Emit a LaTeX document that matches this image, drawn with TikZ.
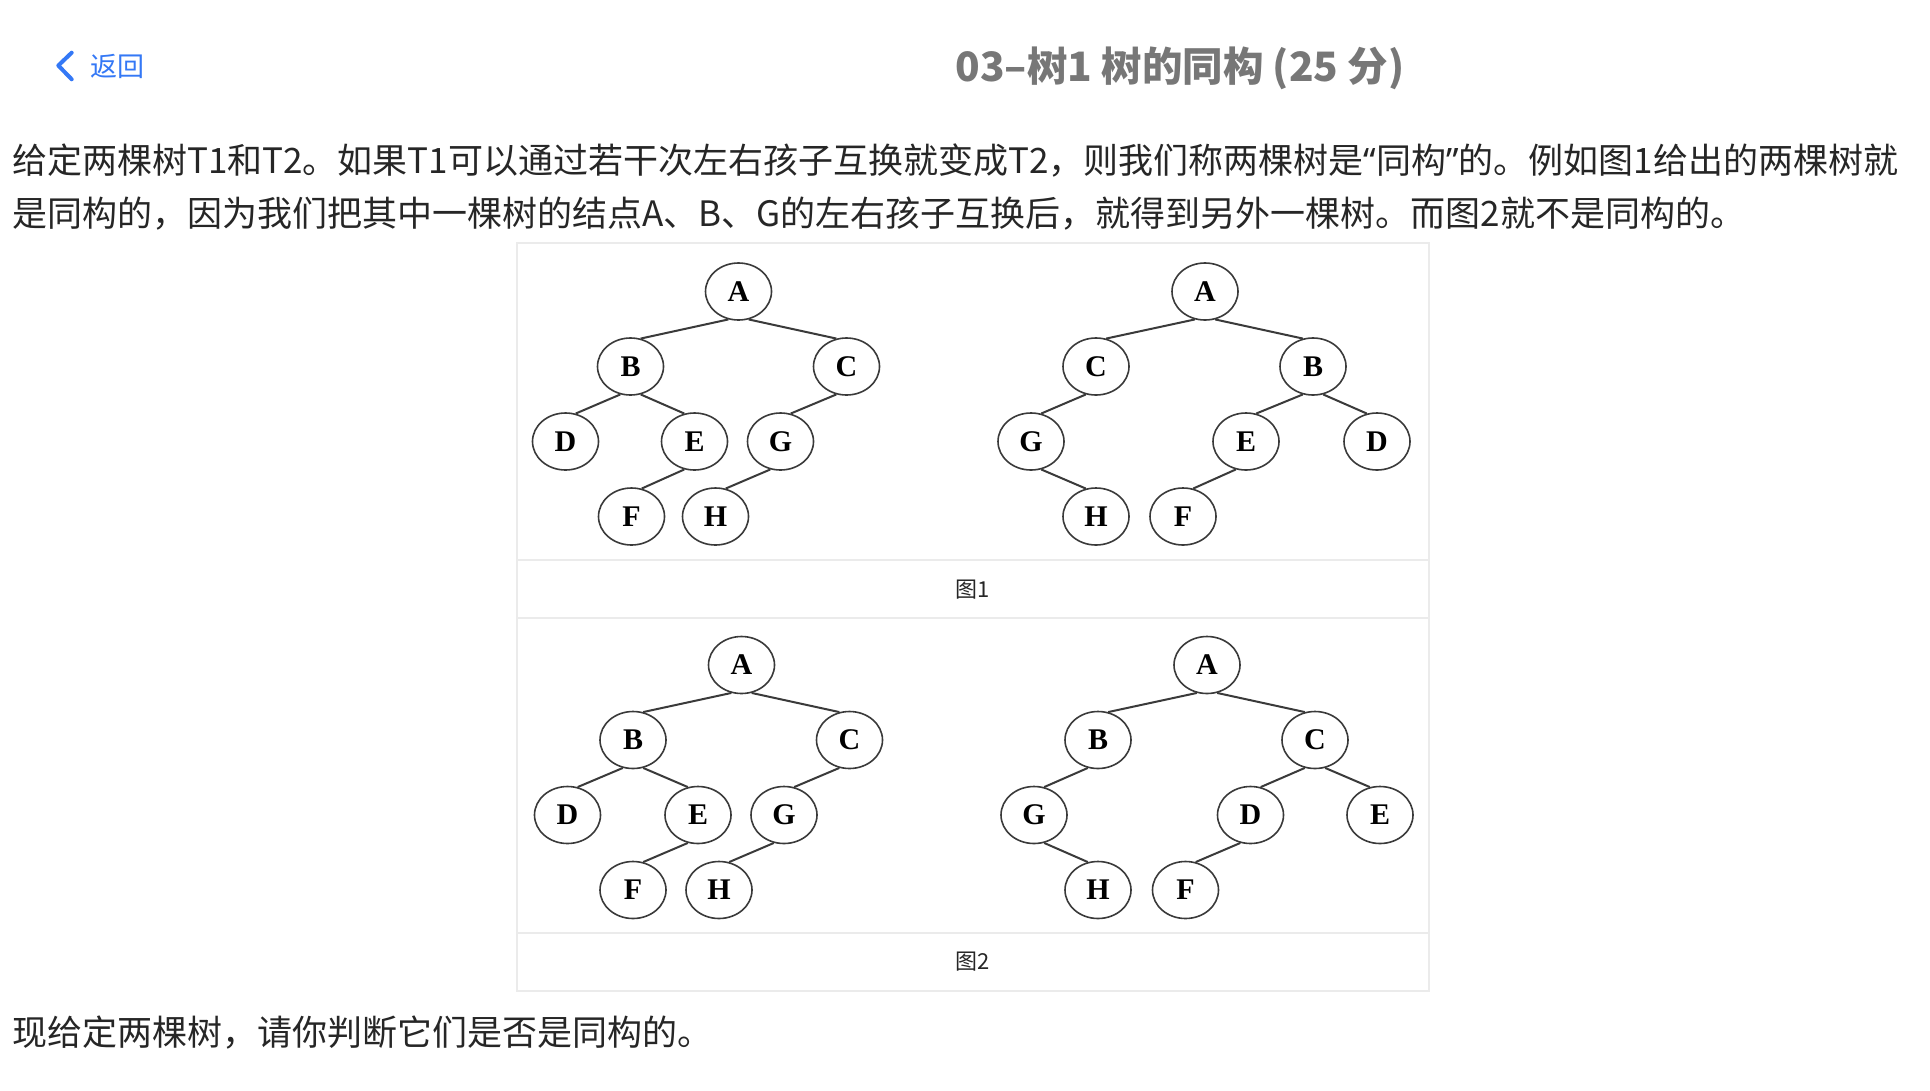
\documentclass[tikz,border=0pt]{standalone}
\usepackage{fontspec}
\usepackage{tikz}
\usetikzlibrary{positioning, shapes.geometric}
\usepackage{xcolor}
\setmainfont{Noto Sans CJK SC}
\newfontfamily\treefont{Liberation Serif}
\newfontfamily\quotefont{Noto Sans}
\definecolor{textdark}{HTML}{262626}
\definecolor{linkblue}{HTML}{3478F6}
\definecolor{titlegray}{HTML}{777777}
\definecolor{rulegray}{HTML}{EBEBEB}
\definecolor{branchgray}{HTML}{3A3A3A}

\begin{document}
\begin{tikzpicture}[
  x=1pt, y=-1pt,
    on grid,
    state/.style={ellipse, draw=branchgray, line width=1.6pt, minimum width=66pt, minimum height=57pt, inner sep=0pt, font=\treefont\bfseries\fontsize{30}{30}\selectfont},
    branch/.style={branchgray, line width=2pt},
    body/.style={anchor=west, inner sep=0pt, text=textdark, font=\fontsize{35}{40}\selectfont},
    caption/.style={inner sep=0pt, text=textdark, font=\fontsize{22}{26}\selectfont},
    tablerule/.style={rulegray, line width=2pt},
    backlink/.style={anchor=west, inner sep=0pt, text=linkblue, font=\fontsize{27}{30}\selectfont},
    backarrow/.style={linkblue, line width=4pt, line cap=round, line join=round},
    heading/.style={inner sep=0pt, text=titlegray, font=\bfseries\fontsize{40.5}{44}\selectfont}
]
\fill[white] (0,0) rectangle (1930,1090);
\useasboundingbox (0,0) rectangle (1930,1090);

% Header
\draw[backarrow] (71.7,52.7) -- (58.3,65.5) -- (71.7,79.3);
\node[backlink] (back) at (90,66) {返回};
\node[heading] (title) at (1180,68) {03–树1 树的同构 (25 分)};

% Text
\node[body] (line1) at (12,161) {给定两棵树T1和T2。如果T1可以通过若干次左右孩子互换就变成T2，则我们称两棵树是{\quotefont “}同构{\quotefont ”}的。例如图1给出的两棵树就};
\node[body] (line2) at (12,214) {是同构的，因为我们把其中一棵树的结点A、B、G的左右孩子互换后，就得到另外一棵树。而图2就不是同构的。};
\node[body] (line3) at (12,1033) {现给定两棵树，请你判断它们是否是同构的。};

% Table
\draw[tablerule] (517,243) rectangle (1429,991);
\draw[tablerule] (517,560) -- (1429,560);
\draw[tablerule] (517,618) -- (1429,618);
\draw[tablerule] (517,933) -- (1429,933);
\node[caption] (cap1) at (973,590) {图1};
\node[caption] (cap2) at (973,962) {图2};

% Figure 1, left tree
\node[state] (A1L) at (738.5,291.5) {A};
\node[state, below left=75pt and 108pt of A1L] (B1L) {B};
\node[state, below right=75pt and 108pt of A1L] (C1L) {C};
\node[state, below left=75pt and 65pt of B1L] (D1L) {D};
\node[state, below right=75pt and 64pt of B1L] (E1L) {E};
\node[state, below left=75pt and 66pt of C1L] (G1L) {G};
\node[state, below left=75pt and 63pt of E1L] (F1L) {F};
\node[state, below left=75pt and 65pt of G1L] (H1L) {H};

% Figure 1, right tree
\node[state] (A1R) at (1205,291.5) {A};
\node[state, below left=75pt and 109pt of A1R] (C1R) {C};
\node[state, below right=75pt and 108pt of A1R] (B1R) {B};
\node[state, below left=75pt and 65pt of C1R] (G1R) {G};
\node[state, below right=75pt and 65pt of G1R] (H1R) {H};
\node[state, below left=75pt and 67pt of B1R] (E1R) {E};
\node[state, below right=75pt and 64pt of B1R] (D1R) {D};
\node[state, below left=75pt and 63pt of E1R] (F1R) {F};

% Figure 2, left tree
\node[state] (A2L) at (741.5,665) {A};
\node[state, below left=75pt and 108.5pt of A2L] (B2L) {B};
\node[state, below right=75pt and 108pt of A2L] (C2L) {C};
\node[state, below left=75pt and 65.5pt of B2L] (D2L) {D};
\node[state, below right=75pt and 65pt of B2L] (E2L) {E};
\node[state, below left=75pt and 65.5pt of C2L] (G2L) {G};
\node[state, below left=75pt and 65pt of E2L] (F2L) {F};
\node[state, below left=75pt and 65pt of G2L] (H2L) {H};

% Figure 2, right tree
\node[state] (A2R) at (1207,665) {A};
\node[state, below left=75pt and 109pt of A2R] (B2R) {B};
\node[state, below right=75pt and 108pt of A2R] (C2R) {C};
\node[state, below left=75pt and 64pt of B2R] (G2R) {G};
\node[state, below right=75pt and 64pt of G2R] (H2R) {H};
\node[state, below left=75pt and 64.5pt of C2R] (D2R) {D};
\node[state, below right=75pt and 65pt of C2R] (E2R) {E};
\node[state, below left=75pt and 65pt of D2R] (F2R) {F};

% Edges (figure 1)
\draw[branch] (A1L.250) -- (B1L.70);  \draw[branch] (A1L.290) -- (C1L.110);
\draw[branch] (B1L.250) -- (D1L.70);  \draw[branch] (B1L.290) -- (E1L.110);
\draw[branch] (C1L.250) -- (G1L.70);
\draw[branch] (E1L.250) -- (F1L.70);
\draw[branch] (G1L.250) -- (H1L.70);

\draw[branch] (A1R.250) -- (C1R.70);  \draw[branch] (A1R.290) -- (B1R.110);
\draw[branch] (C1R.250) -- (G1R.70);
\draw[branch] (G1R.290) -- (H1R.110);
\draw[branch] (B1R.250) -- (E1R.70);  \draw[branch] (B1R.290) -- (D1R.110);
\draw[branch] (E1R.250) -- (F1R.70);

% Edges (figure 2)
\draw[branch] (A2L.250) -- (B2L.70);  \draw[branch] (A2L.290) -- (C2L.110);
\draw[branch] (B2L.250) -- (D2L.70);  \draw[branch] (B2L.290) -- (E2L.110);
\draw[branch] (C2L.250) -- (G2L.70);
\draw[branch] (E2L.250) -- (F2L.70);
\draw[branch] (G2L.250) -- (H2L.70);

\draw[branch] (A2R.250) -- (B2R.70);  \draw[branch] (A2R.290) -- (C2R.110);
\draw[branch] (B2R.250) -- (G2R.70);
\draw[branch] (G2R.290) -- (H2R.110);
\draw[branch] (C2R.250) -- (D2R.70);  \draw[branch] (C2R.290) -- (E2R.110);
\draw[branch] (D2R.250) -- (F2R.70);

\end{tikzpicture}
\end{document}
